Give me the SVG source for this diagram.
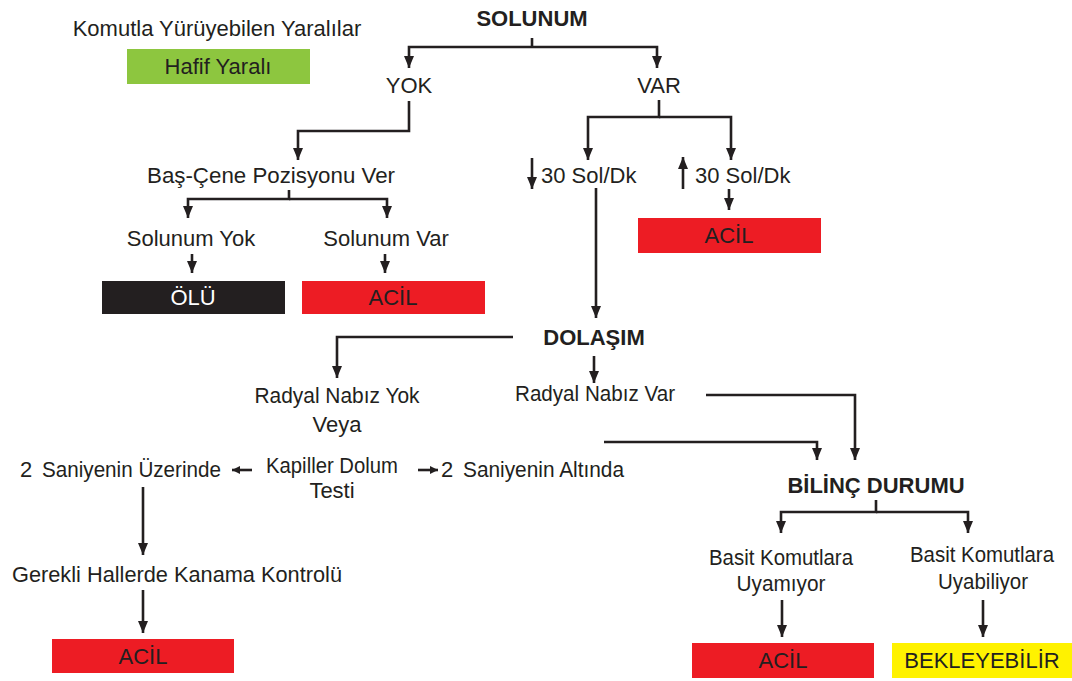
<svg xmlns="http://www.w3.org/2000/svg" width="1072" height="681" viewBox="0 0 1072 681">
<style>
text{font-family:"Liberation Sans",Arial,sans-serif;font-size:22px;fill:#231f20}
.c{text-anchor:middle}
.b{font-weight:bold}
.w{fill:#ffffff}
.con path{fill:none;stroke:#231f20;stroke-width:2.6;marker-end:url(#ah)}
.con path.n{marker-end:none}
.con path.s{marker-end:url(#as)}
</style>
<defs>
<marker id="ah" viewBox="0 0 12 10" refX="12" refY="5" markerWidth="12" markerHeight="10" markerUnits="userSpaceOnUse" orient="auto"><path d="M0,0 L12,5 L0,10 z" fill="#231f20"/></marker>
<marker id="as" viewBox="0 0 8 8" refX="8" refY="4" markerWidth="8" markerHeight="8" markerUnits="userSpaceOnUse" orient="auto"><path d="M0,0 L8,4 L0,8 z" fill="#231f20"/></marker>
</defs>
<rect width="1072" height="681" fill="#ffffff"/>
<g id="connectors" class="con">
<path class="n" d="M532,38 V47"/>
<path d="M532,47 H409 V68"/>
<path d="M532,47 H657 V68"/>
<path d="M409,101 V131 H298 V160"/>
<path d="M289,190 V199 H188 V218"/>
<path d="M289,199 H387 V218"/>
<path d="M192,254 V273"/>
<path d="M385,254 V273"/>
<path d="M659,100 V117 H588 V160"/>
<path d="M659,117 H731 V160"/>
<path d="M532,158 V189"/>
<path d="M683,189 V157"/>
<path d="M729,189 V210"/>
<path d="M596,188 V318"/>
<path d="M513,337 H337 V378"/>
<path d="M594,356 V383"/>
<path d="M706,395 H855 V460"/>
<path d="M604,442 H817 V460"/>
<path class="s" d="M252,470 H232"/>
<path class="s" d="M418,470 H438"/>
<path d="M143,487 V555"/>
<path d="M143,590 V633"/>
<path d="M876,500 V512 H781 V533"/>
<path d="M876,512 H968 V533"/>
<path d="M782,600 V637"/>
<path d="M983,600 V637"/>
</g>
<g id="n-komutla"><text class="c" x="217" y="36">Komutla Yürüyebilen Yaralılar</text></g>
<g id="n-hafif"><rect x="127" y="49" width="183" height="35" fill="#8dc63f"/><text class="c" x="218" y="74">Hafif Yaralı</text></g>
<g id="n-solunum"><text class="c b" x="532" y="26">SOLUNUM</text></g>
<g id="n-yok"><text class="c" x="409" y="93">YOK</text></g>
<g id="n-var"><text class="c" x="659" y="93">VAR</text></g>
<g id="n-bascene"><text class="c" x="271" y="183" textLength="248" lengthAdjust="spacingAndGlyphs">Baş-Çene Pozisyonu Ver</text></g>
<g id="n-solyok"><text class="c" x="191" y="246">Solunum Yok</text></g>
<g id="n-solvar"><text class="c" x="386" y="246">Solunum Var</text></g>
<g id="n-olu"><rect x="102" y="281" width="183" height="33" fill="#231f20"/><text class="c w" x="193" y="305">ÖLÜ</text></g>
<g id="n-acil1"><rect x="302" y="281" width="183" height="33" fill="#ed1c24"/><text class="c" x="393" y="305">ACİL</text></g>
<g id="n-alt30"><text x="541" y="183">30 Sol/Dk</text></g>
<g id="n-ust30"><text x="695" y="183">30 Sol/Dk</text></g>
<g id="n-acil2"><rect x="638" y="218" width="183" height="35" fill="#ed1c24"/><text class="c" x="729" y="243">ACİL</text></g>
<g id="n-dolasim"><text class="c b" x="594" y="345">DOLAŞIM</text></g>
<g id="n-nabizyok"><text class="c" x="337" y="403" textLength="165" lengthAdjust="spacingAndGlyphs">Radyal Nabız Yok</text><text class="c" x="337" y="432">Veya</text></g>
<g id="n-nabizvar"><text class="c" x="595" y="401" textLength="160" lengthAdjust="spacingAndGlyphs">Radyal Nabız Var</text></g>
<g id="n-kapiller"><text class="c" x="332" y="473" textLength="132" lengthAdjust="spacingAndGlyphs">Kapiller Dolum</text><text class="c" x="332" y="498">Testi</text></g>
<g id="n-uzerinde"><text x="20" y="477">2<tspan x="42" textLength="179" lengthAdjust="spacingAndGlyphs">Saniyenin Üzerinde</tspan></text></g>
<g id="n-altinda"><text x="441" y="477">2<tspan x="463" textLength="161" lengthAdjust="spacingAndGlyphs">Saniyenin Altında</tspan></text></g>
<g id="n-bilinc"><text class="c b" x="876" y="493">BİLİNÇ DURUMU</text></g>
<g id="n-uyamiyor"><text class="c" x="781" y="565" textLength="144" lengthAdjust="spacingAndGlyphs">Basit Komutlara</text><text class="c" x="781" y="591" textLength="89" lengthAdjust="spacingAndGlyphs">Uyamıyor</text></g>
<g id="n-uyabiliyor"><text class="c" x="982" y="562" textLength="144" lengthAdjust="spacingAndGlyphs">Basit Komutlara</text><text class="c" x="983" y="589" textLength="90" lengthAdjust="spacingAndGlyphs">Uyabiliyor</text></g>
<g id="n-kanama"><text class="c" x="177" y="582" textLength="330" lengthAdjust="spacingAndGlyphs">Gerekli Hallerde Kanama Kontrolü</text></g>
<g id="n-acil3"><rect x="52" y="639" width="182" height="34" fill="#ed1c24"/><text class="c" x="143" y="664">ACİL</text></g>
<g id="n-acil4"><rect x="692" y="643" width="182" height="35" fill="#ed1c24"/><text class="c" x="783" y="668">ACİL</text></g>
<g id="n-bekle"><rect x="892" y="643" width="180" height="35" fill="#fff200"/><text class="c" x="982" y="668">BEKLEYEBİLİR</text></g>
</svg>
